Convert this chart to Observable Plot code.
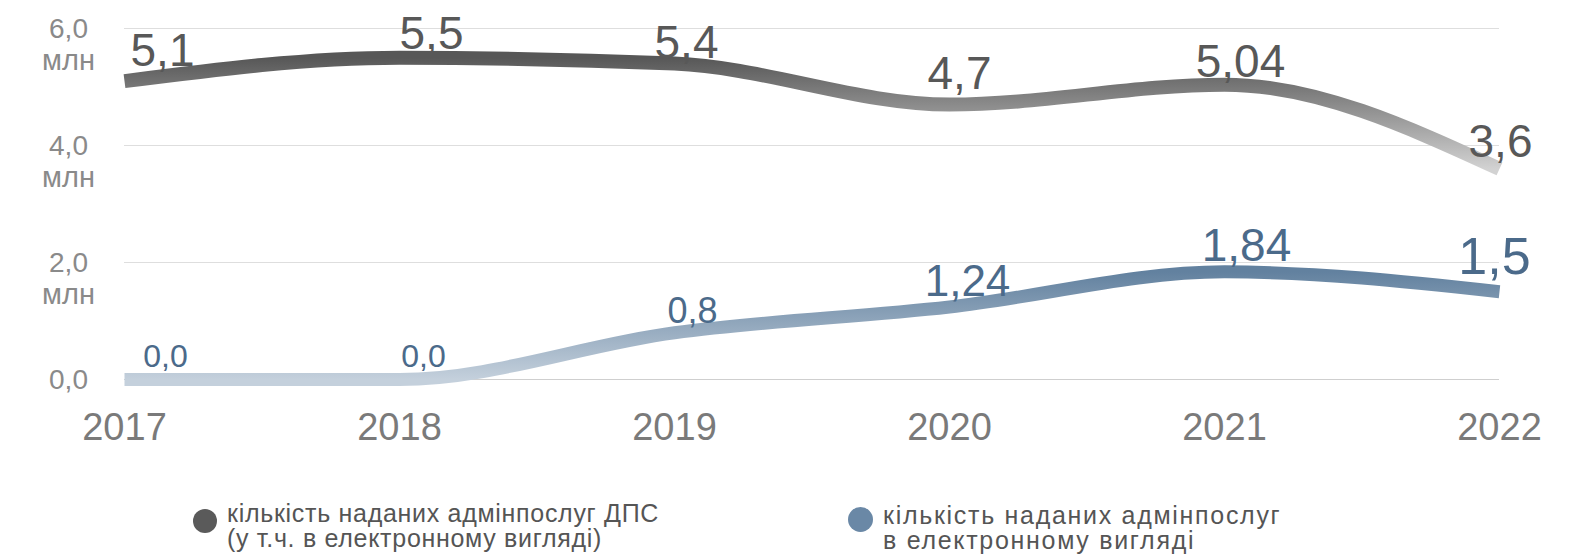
<!DOCTYPE html>
<html>
<head>
<meta charset="utf-8">
<script src="https://cdn.jsdelivr.net/npm/d3@7"></script>
<script src="https://cdn.jsdelivr.net/npm/@observablehq/plot@0.6"></script>
<style>
  body { margin: 0; background: #fff; font-family: "Liberation Sans", Arial, sans-serif; }
  #wrap { position: relative; width: 1583px; height: 559px; overflow: hidden; }
  #chart svg { display: block; }
  .dot { position: absolute; border-radius: 50%; }
  .ltext { position: absolute; line-height: 25px; color: #555; white-space: nowrap; }
</style>
</head>
<body>
<div id="wrap">
  <div id="chart"></div>
  <div id="legend"></div>
</div>
<script>
// ---- data ----
const years = [2017, 2018, 2019, 2020, 2021, 2022];
const totalServices = [5.1, 5.5, 5.4, 4.7, 5.04, 3.6];        // кількість наданих адмінпослуг ДПС, млн
const onlineServices = [0.0, 0.0, 0.8, 1.24, 1.84, 1.5];       // в електронному вигляді, млн
const totalLabels = ["5,1", "5,5", "5,4", "4,7", "5,04", "3,6"];
const onlineLabels = ["0,0", "0,0", "0,8", "1,24", "1,84", "1,5"];
const yTicks = [0, 2, 4, 6];
const yTickLabels = ["0,0", "2,0", "4,0", "6,0"];
const unitLabel = "млн";
const legendLabels = [
  "кількість наданих адмінпослуг ДПС\n(у т.ч. в електронному вигляді)",
  "кількість наданих адмінпослуг\nв електронному вигляді"
];

// ---- styles (label placement / sizes) ----
const grayColor = "#5a5a5a";
const blueColor = "#6a88a6";
const totalLabelOffsets = [[38, -15], [32, -9], [12, -6], [10, -16], [16, -8], [1, -12]];
const onlineLabelOffsets = [[41, -13], [24, -13], [18, -10], [18, -11], [22, -11], [-5, -18]];
const onlineLabelSizes = [32, 32, 36, 44, 46, 52];

const rows = years.map((year, i) => ({
  year, total: totalServices[i], online: onlineServices[i],
  totalLabel: totalLabels[i], onlineLabel: onlineLabels[i], i
}));
const tickRows = yTicks.map((v, i) => ({v, label: yTickLabels[i]}));

const gradients = () => {
  const defs = d3.create("svg:defs");
  const g1 = defs.append("linearGradient").attr("id", "grayGrad")
    .attr("x1", 0).attr("y1", 0).attr("x2", 0).attr("y2", 1);
  g1.append("stop").attr("offset", "0%").attr("stop-color", "#575757");
  g1.append("stop").attr("offset", "100%").attr("stop-color", "#d2d2d2");
  const g2 = defs.append("linearGradient").attr("id", "blueGrad")
    .attr("x1", 0).attr("y1", 0).attr("x2", 0).attr("y2", 1);
  g2.append("stop").attr("offset", "0%").attr("stop-color", "#62819f");
  g2.append("stop").attr("offset", "100%").attr("stop-color", "#c4d0dc");
  return defs.node();
};

const plot = Plot.plot({
  width: 1583,
  height: 460,
  marginLeft: 124,
  marginRight: 84,
  marginTop: 28,
  marginBottom: 81,
  style: { fontFamily: "Liberation Sans, Arial, sans-serif", background: "#fff" },
  x: { type: "linear", domain: [years[0], years[years.length - 1]] },
  y: { domain: [0, 6], axis: null },
  marks: [
    gradients,
    Plot.ruleY(yTicks.filter(v => v > 0), { stroke: "#dedede", strokeWidth: 1.2 }),
    Plot.ruleY([0], { stroke: "#cfcfcf", strokeWidth: 1.2 }),
    Plot.axisX({
      ticks: years, tickFormat: d => String(d), tickSize: 0, tickPadding: 34,
      fontSize: 38, color: "#7a7a7a", label: null
    }),
    // y tick labels: number centred on the grid line, unit below it
    Plot.text(tickRows, {
      y: "v", text: "label", frameAnchor: "left", dx: -56, textAnchor: "middle",
      lineAnchor: "bottom", dy: 9, fontSize: 28, fill: "#8a8a8a", letterSpacing: "3px"
    }),
    Plot.text(tickRows.filter(d => d.v > 0), {
      y: "v", text: () => unitLabel, frameAnchor: "left", dx: -56, textAnchor: "middle",
      lineAnchor: "bottom", dy: 41, fontSize: 29, fill: "#8a8a8a", letterSpacing: "4px"
    }),
    Plot.line(rows, {
      x: "year", y: "online", curve: "monotone-x", stroke: "url(#blueGrad)",
      strokeWidth: 13, strokeLinecap: "butt"
    }),
    Plot.line(rows, {
      x: "year", y: "total", curve: "monotone-x", stroke: "url(#grayGrad)",
      strokeWidth: 14, strokeLinecap: "butt"
    }),
    ...rows.map(r => Plot.text([r], {
      x: "year", y: "total", text: "totalLabel", textAnchor: "middle", lineAnchor: "bottom",
      dx: totalLabelOffsets[r.i][0], dy: totalLabelOffsets[r.i][1], fontSize: 46, fill: "#585858"
    })),
    ...rows.map(r => Plot.text([r], {
      x: "year", y: "online", text: "onlineLabel", textAnchor: "middle", lineAnchor: "bottom",
      dx: onlineLabelOffsets[r.i][0], dy: onlineLabelOffsets[r.i][1],
      fontSize: onlineLabelSizes[r.i], fill: "#4b6a8a"
    }))
  ]
});
document.getElementById("chart").appendChild(plot);

// ---- legend (HTML, below the SVG) ----
const legend = document.getElementById("legend");
const legendItems = [
  { label: legendLabels[0], color: grayColor, dotX: 193, dotY: 509, size: 24, textX: 227, textY: 501, fontSize: 25, spacing: 0.7 },
  { label: legendLabels[1], color: blueColor, dotX: 848, dotY: 507, size: 25, textX: 883, textY: 503, fontSize: 25, spacing: 1.7 }
];
legendItems.forEach(item => {
  const dot = document.createElement("div");
  dot.className = "dot";
  Object.assign(dot.style, {
    left: item.dotX + "px", top: item.dotY + "px",
    width: item.size + "px", height: item.size + "px", background: item.color
  });
  legend.appendChild(dot);
  const t = document.createElement("div");
  t.className = "ltext";
  t.style.left = item.textX + "px";
  t.style.top = item.textY + "px";
  t.style.fontSize = item.fontSize + "px";
  t.style.letterSpacing = item.spacing + "px";
  item.label.split("\n").forEach((line, k) => {
    if (k) t.appendChild(document.createElement("br"));
    t.appendChild(document.createTextNode(line));
  });
  legend.appendChild(t);
});
</script>
</body>
</html>
